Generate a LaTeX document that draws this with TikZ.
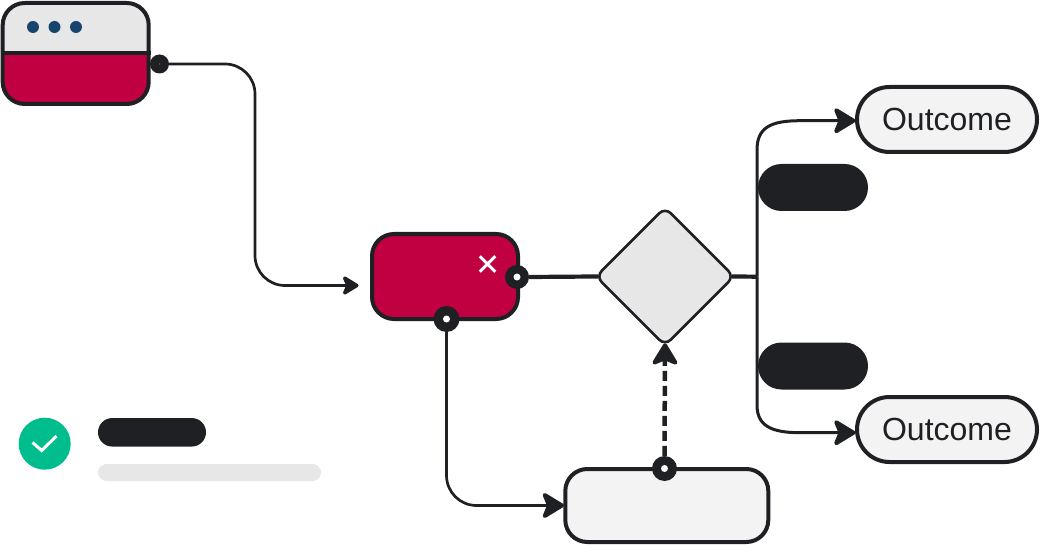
\documentclass[tikz,border=0pt]{standalone}
\usepackage{fontspec}
\setmainfont{Liberation Sans}
\usetikzlibrary{arrows.meta,shapes.geometric,shapes.misc}
\definecolor{ink}{HTML}{1F2024}
\definecolor{crimson}{HTML}{C00040}
\definecolor{pale}{HTML}{F3F3F3}
\definecolor{mist}{HTML}{E7E7E7}
\definecolor{navy}{HTML}{17456E}
\definecolor{mint}{HTML}{00BD8E}
\tikzset{
  box/.style={draw=ink, line width=4pt, rectangle, rounded corners=22pt, inner sep=0pt},
  outcome/.style={draw=ink, line width=4pt, rounded rectangle, fill=pale, text=ink, inner sep=0pt,
    minimum width=180pt, minimum height=65pt, font=\fontsize{32}{32}\selectfont},
  port/.style={circle, fill=ink, inner sep=0pt},
  hole/.style={circle, fill=white, inner sep=0pt, minimum size=7pt},
  pill/.style={rounded rectangle, fill=ink, inner sep=0pt},
  dot/.style={circle, fill=navy, inner sep=0pt, minimum size=12pt},
  flow/.style={draw=ink, line width=2.7pt},
  branch/.style={draw=ink, line width=3pt},
  heavy/.style={draw=ink, line width=4.2pt},
  tip/.style={-{Stealth[length=25pt,width=30pt,inset=6pt,line width=4pt,round,fill=ink]}},
  smalltip/.style={-{Stealth[length=19pt,width=23pt,inset=5pt,line width=3.5pt,round,fill=ink,sep=4pt]}}
}
\begin{document}
\begin{tikzpicture}[x=1pt,y=-1pt]
\useasboundingbox (0,0) rectangle (1040,545);

% window
\node(WinBody)[box, draw=none, fill=crimson, minimum width=146pt, minimum height=101pt] at (75.7,53.5) {};
\fill[mist] (3.5,53.5) [rounded corners=22pt] -- (3.5,3) -- (148,3) [sharp corners] -- (148,53.5) -- cycle;
\node(Win)[box, minimum width=146pt, minimum height=101pt] at (75.7,53.5) {};
\draw[ink, line width=4pt] (Win.west) -- (Win.east);
\node(Dot1)[dot] at (33,27) {};
\node(Dot2)[dot] at (54.5,27) {};
\node(Dot3)[dot] at (76,27) {};
\node(WinPort)[port, minimum size=19pt] at (159.5,64) {};
\node(WinHole)[hole, fill=gray, minimum size=1.2pt] at (WinPort) {};

% middle row
\node(Proc)[box, fill=crimson, minimum width=146pt, minimum height=85pt] at (445,276.5) {};
\node(Close)[cross out, draw=white, line width=3pt, inner sep=0pt, minimum size=12.5pt] at (487.5,264) {};
\node(ProcPortE)[port, minimum size=24pt] at (517,277) {};
\node(ProcHoleE)[hole] at (ProcPortE) {};
\node(ProcPortS)[port, minimum size=26pt] at (446.5,319) {};
\node(ProcHoleS)[hole] at (ProcPortS) {};
\node(Decide)[diamond, draw=ink, line width=2.6pt, fill=mist, rounded corners=8pt, inner sep=0pt,
  minimum width=139pt, minimum height=139pt] at (665,276.5) {};

% bottom box
\node(Rest)[box, fill=pale, minimum width=203pt, minimum height=73pt] at (666.8,505.5) {};
\node(RestPort)[port, minimum size=25pt] at (664.5,468.5) {};
\node(RestHole)[hole] at (RestPort) {};

% outcomes
\node(Out1)[outcome] at (947,119.5) {Outcome};
\node(Out2)[outcome] at (947,429.5) {Outcome};
\node(Tag1)[pill, minimum width=110pt, minimum height=47pt] at (813,187.5) {};
\node(Tag2)[pill, minimum width=110pt, minimum height=47pt] at (813,366) {};

% status
\node(Check)[circle, fill=mint, inner sep=0pt, minimum size=52pt] at (44.7,443.7) {};
\draw[white, line width=3pt] (32.5,442.5) -- (41.7,450.5) -- (56.5,436);
\node(StatusA)[pill, minimum width=108pt, minimum height=28.5pt] at (152,432.3) {};
\node(StatusB)[pill, fill=mist, minimum width=223pt, minimum height=17pt] at (209.5,472.5) {};

% free ends
\coordinate(Knee1) at (255,175);
\coordinate(ProcIn) at (362.5,285.5);
\coordinate(RestIn) at (564,505.5);
\coordinate(Fork) at (757,276.7);
\coordinate(Up) at (757,150);
\coordinate(Down) at (757,405);
\coordinate(UpOut) at (800,120.7);
\coordinate(DownOut) at (800,432.7);
\coordinate(Out1In) at (855.5,120.7);
\coordinate(Out2In) at (855.5,432.7);

% connectors
\draw[flow, smalltip] (WinPort.east) [rounded corners=30pt] -| (Knee1) |- (ProcIn) [sharp corners];
\draw[flow, tip] (ProcPortS.south) [rounded corners=30pt] |- (RestIn) [sharp corners];
\draw[heavy, shorten >=-4pt] (ProcPortE.east) -- (Decide.west);
\draw[heavy, shorten <=-4pt] (Decide.east) -- (Fork);
\draw[branch, tip] (Fork) -- (Up) .. controls (757,128) and (770,120.7) .. (UpOut) -- (Out1In);
\draw[branch, tip] (Fork) -- (Down) .. controls (757,425) and (770,432.7) .. (DownOut) -- (Out2In);
\draw[draw=ink, line width=4.5pt, dash pattern=on 10pt off 5pt, tip, shorten >=-4pt] (RestPort.north) -- (Decide.south);
\end{tikzpicture}
\end{document}
